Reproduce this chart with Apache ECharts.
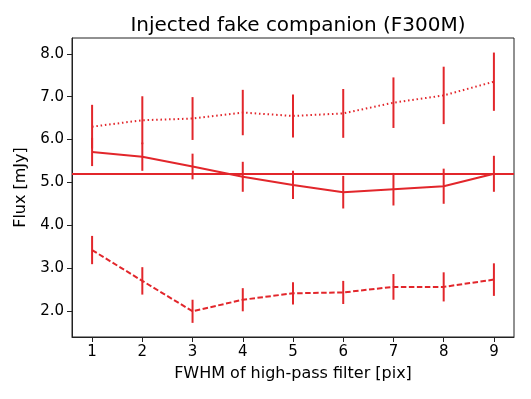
<!DOCTYPE html>
<html>
<head>
<meta charset="utf-8">
<script src="https://cdn.jsdelivr.net/npm/echarts@6/dist/echarts.min.js"></script>
<style>
  html, body { margin: 0; padding: 0; background: #fff; }
  #chart { width: 531px; height: 399px; }
</style>
</head>
<body>
<div id="chart"></div>
<script>
var fwhm = [1, 2, 3, 4, 5, 6, 7, 8, 9];

// dotted series
var fluxTop = [6.30, 6.45, 6.49, 6.63, 6.55, 6.61, 6.86, 7.03, 7.35];
var errTop = [0.51, 0.56, 0.50, 0.53, 0.50, 0.57, 0.59, 0.67, 0.68];

// solid series
var fluxMid = [5.71, 5.60, 5.37, 5.13, 4.94, 4.77, 4.84, 4.91, 5.20];
var errMid = [0.33, 0.33, 0.30, 0.35, 0.33, 0.38, 0.38, 0.41, 0.42];

// dashed series
var fluxLow = [3.42, 2.70, 1.99, 2.26, 2.41, 2.43, 2.56, 2.56, 2.73];
var errLow = [0.33, 0.32, 0.27, 0.27, 0.26, 0.27, 0.30, 0.34, 0.38];

var injectedFlux = 5.19;

var xTicks = [1, 2, 3, 4, 5, 6, 7, 8, 9];
var yTicks = [2, 3, 4, 5, 6, 7, 8];

var red = '#e2262b';
var font = 'DejaVu Sans';

function pts(vals) {
  return fwhm.map(function (x, i) { return [x, vals[i]]; });
}

function errData(vals, errs) {
  return fwhm.map(function (x, i) { return [x, vals[i] - errs[i], vals[i] + errs[i]]; });
}

function errSeries(vals, errs) {
  return {
    type: 'custom',
    data: errData(vals, errs),
    z: 3,
    renderItem: function (params, api) {
      var lo = api.coord([api.value(0), api.value(1)]);
      var hi = api.coord([api.value(0), api.value(2)]);
      return {
        type: 'line',
        shape: { x1: lo[0], y1: lo[1], x2: hi[0], y2: hi[1] },
        style: { stroke: red, lineWidth: 2 }
      };
    }
  };
}

function lineSeries(vals, dash) {
  return {
    type: 'line',
    data: pts(vals),
    symbol: 'none',
    z: 2,
    lineStyle: { color: red, width: 2, type: dash },
    animation: false
  };
}

var myChart = echarts.init(document.getElementById('chart'));

var option = {
  animation: false,
  title: {
    text: 'Injected fake companion (F300M)',
    left: 293,
    textAlign: 'center',
    top: 11,
    textStyle: { fontFamily: font, fontSize: 20, fontWeight: 'normal', color: '#000' }
  },
  grid: {
    left: 72, right: 17, top: 38, bottom: 62,
    show: true, borderColor: '#222', borderWidth: 1
  },
  xAxis: {
    type: 'value',
    min: 0.6,
    max: 9.4,
    name: 'FWHM of high-pass filter [pix]',
    nameLocation: 'middle',
    nameGap: 29,
    nameTextStyle: { fontFamily: font, fontSize: 16, color: '#000' },
    splitLine: { show: false },
    axisLine: { show: true, lineStyle: { color: '#222', width: 1 } },
    axisTick: { show: true, length: 5, lineStyle: { color: '#222' }, customValues: xTicks },
    axisLabel: {
      customValues: xTicks,
      fontFamily: font, fontSize: 15, color: '#000', margin: 8
    }
  },
  yAxis: {
    type: 'value',
    min: 1.39,
    max: 8.37,
    name: 'Flux [mJy]',
    nameLocation: 'middle',
    nameGap: 39,
    nameRotate: 90,
    nameTextStyle: { fontFamily: font, fontSize: 16, color: '#000' },
    splitLine: { show: false },
    axisLine: { show: true, lineStyle: { color: '#222', width: 1 } },
    axisTick: { show: true, length: 5, lineStyle: { color: '#222' }, customValues: yTicks },
    axisLabel: {
      customValues: yTicks,
      fontFamily: font, fontSize: 15, color: '#000', margin: 8,
      formatter: function (v) { return v.toFixed(1); }
    }
  },
  series: [
    lineSeries(fluxTop, [1.5, 2.8]),
    errSeries(fluxTop, errTop),
    Object.assign(lineSeries(fluxMid, 'solid'), {
      markLine: {
        silent: true,
        symbol: 'none',
        label: { show: false },
        lineStyle: { color: red, width: 2, type: 'solid' },
        data: [{ yAxis: injectedFlux }]
      }
    }),
    errSeries(fluxMid, errMid),
    lineSeries(fluxLow, [5.5, 2.5]),
    errSeries(fluxLow, errLow)
  ]
};

myChart.setOption(option);
</script>
</body>
</html>
